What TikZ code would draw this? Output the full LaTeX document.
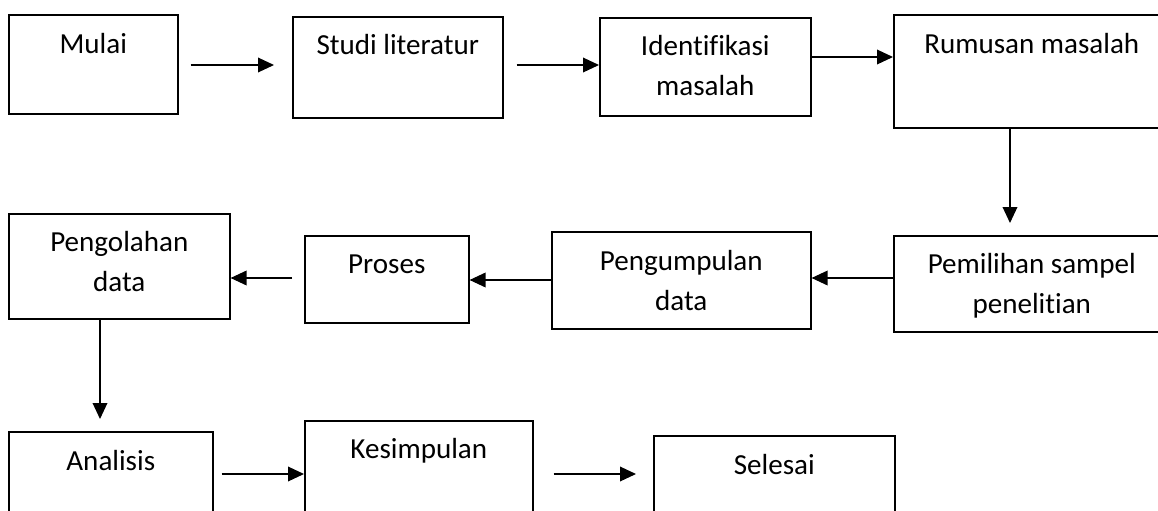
\documentclass[tikz,border=0pt]{standalone}
\usepackage{fontspec}
\setmainfont{Carlito}[Ligatures=NoCommon]
\usetikzlibrary{arrows.meta}
\begin{document}
\begin{tikzpicture}[x=0.75pt,y=-0.75pt,
  box/.style={draw=black,line width=1.2pt,inner sep=0pt,anchor=north west},
  lbl/.style={anchor=base,inner sep=0pt,align=center,font=\fontsize{21.8}{29.6}\selectfont},
  arr/.style={line width=1pt,-{Triangle[length=12pt,width=11pt]}}]
\clip (0,0) rectangle (1158,511);
\fill[white] (0,0) rectangle (1158,511);
% boxes
\node[box,minimum width=169*0.75pt,minimum height=99*0.75pt] (mulai) at (8,14) {};
\node[box,minimum width=210*0.75pt,minimum height=101*0.75pt] (studi) at (292,16) {};
\node[box,minimum width=211*0.75pt,minimum height=98*0.75pt] (idf) at (599,17) {};
\node[box,minimum width=276*0.75pt,minimum height=113*0.75pt] (rumus) at (893,14) {};
\node[box,minimum width=276*0.75pt,minimum height=96*0.75pt] (pilih) at (893,235) {};
\node[box,minimum width=259*0.75pt,minimum height=97*0.75pt] (kumpul) at (551,231) {};
\node[box,minimum width=164*0.75pt,minimum height=87*0.75pt] (proses) at (304,235) {};
\node[box,minimum width=221*0.75pt,minimum height=105*0.75pt] (olah) at (8,213) {};
\node[box,minimum width=204*0.75pt,minimum height=100*0.75pt] (anal) at (8,431) {};
\node[box,minimum width=228*0.75pt,minimum height=110*0.75pt] (simp) at (304,420) {};
\node[box,minimum width=241*0.75pt,minimum height=100*0.75pt] (seles) at (653,435) {};
% labels (base = baseline of the last line)
\node[lbl] (tmulai) at ([yshift=-39*0.75pt]mulai.north) {Mulai};
\node[lbl] (tstudi) at ([yshift=-38*0.75pt]studi.north) {Studi literatur};
\node[lbl] (tidf) at ([yshift=-78*0.75pt]idf.north) {Identifikasi\\masalah};
\node[lbl] (trumus) at ([yshift=-39*0.75pt]rumus.north) {Rumusan masalah};
\node[lbl] (tpilih) at ([yshift=-78*0.75pt]pilih.north) {Pemilihan sampel\\penelitian};
\node[lbl] (tkumpul) at ([yshift=-79*0.75pt]kumpul.north) {Pengumpulan\\data};
\node[lbl] (tproses) at ([yshift=-38*0.75pt]proses.north) {Proses};
\node[lbl] (tolah) at ([yshift=-78*0.75pt]olah.north) {Pengolahan\\data};
\node[lbl] (tanal) at ([yshift=-39*0.75pt]anal.north) {Analisis};
\node[lbl] (tsimp) at ([yshift=-38*0.75pt]simp.north) {Kesimpulan};
\node[lbl] (tseles) at ([yshift=-39*0.75pt]seles.north) {Selesai};
% connectors
\draw[arr,shorten <=12*0.75pt,shorten >=18*0.75pt] (mulai.east |- 0,65) -- (studi.west |- 0,65);
\draw[arr,shorten <=13*0.75pt] (studi.east |- 0,65) -- (idf.west |- 0,65);
\draw[arr] (idf.east |- 0,57) -- (rumus.west |- 0,57);
\draw[arr,shorten >=12*0.75pt] (rumus.south -| 1010,0) -- (pilih.north -| 1010,0);
\draw[arr] (pilih.west |- 0,278) -- (kumpul.east |- 0,278);
\draw[arr] (kumpul.west |- 0,280) -- (proses.east |- 0,280);
\draw[arr,shorten <=12*0.75pt] (proses.west |- 0,278) -- (olah.east |- 0,278);
\draw[arr,shorten >=12*0.75pt] (olah.south -| 100,0) -- (anal.north -| 100,0);
\draw[arr,shorten <=8*0.75pt] (anal.east |- 0,474) -- (simp.west |- 0,474);
\draw[arr,shorten <=20*0.75pt,shorten >=17*0.75pt] (simp.east |- 0,474) -- (seles.west |- 0,474);
\end{tikzpicture}
\end{document}
